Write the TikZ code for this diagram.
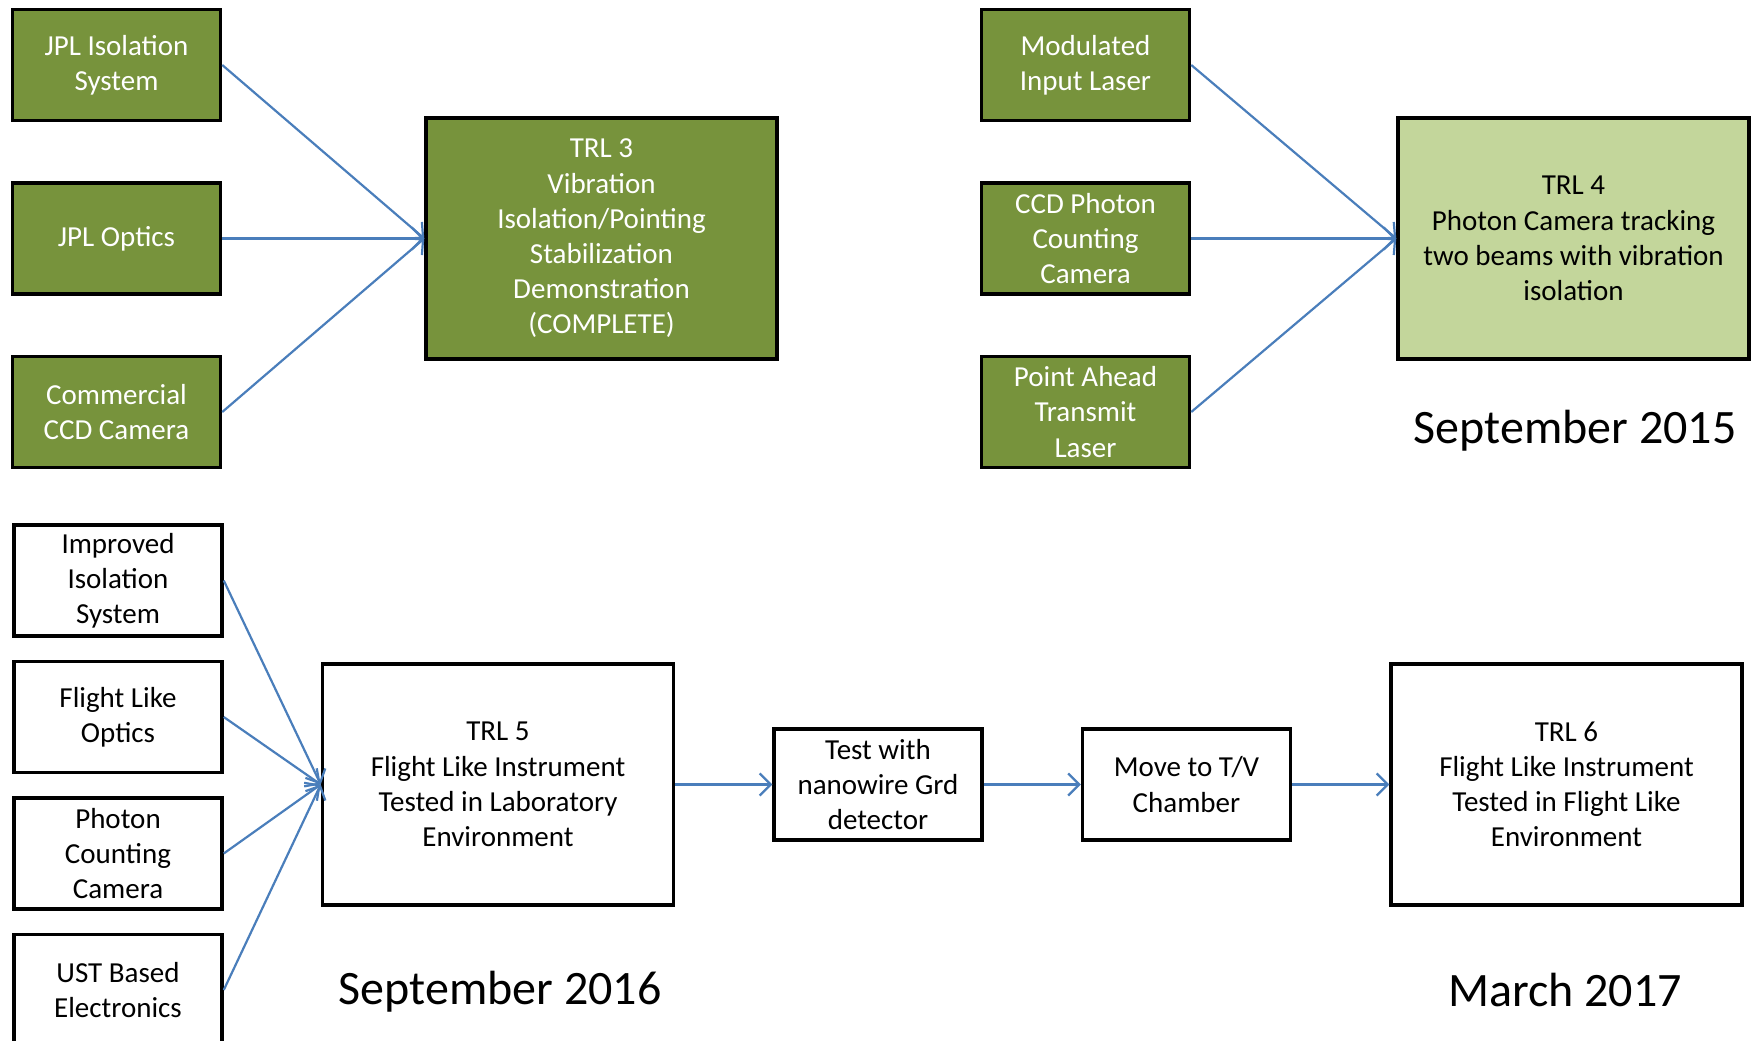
\documentclass[tikz,border=0pt]{standalone}
\usepackage{fontspec}
\setmainfont{Carlito}
\usepackage{tikz}
\usetikzlibrary{positioning,arrows.meta}

\definecolor{olivedark}{HTML}{77933C}
\definecolor{olivelight}{HTML}{C3D69B}
\definecolor{linkblue}{HTML}{4A7EBB}

\begin{document}
\begin{tikzpicture}[
        x=1pt, y=-1pt,
        smallbox/.style={draw, line width=3.5pt, minimum width=208pt, minimum height=111pt, align=center, font=\fontsize{29}{35.2}\selectfont},
        bigbox/.style={smallbox, minimum width=351pt, minimum height=241pt},
        donebox/.style={fill=olivedark, text=white},
        datelabel/.style={font=\fontsize{48}{58}\selectfont},
        flow/.style={draw=linkblue, line width=2.2pt, -{Straight Barb[length=11pt,width=22pt]}}
        ]
        \useasboundingbox (0,0) rectangle (1754,1041);
        \clip (0,0) rectangle (1754,1041);
        % TRL 3
        \node[smallbox,donebox]            (jpliso)   at (116.5,65)         {JPL Isolation\\System};
        \node[smallbox,donebox]            (jplopt)   [below=59pt of jpliso]   {JPL Optics};
        \node[smallbox,donebox]            (comccd)   [below=59pt of jplopt]   {Commercial\\CCD Camera};
        \node[bigbox,donebox]              (trliii)   [right=202pt of jplopt]  {TRL 3\\Vibration\\Isolation/Pointing\\Stabilization\\Demonstration\\(COMPLETE)};
        % TRL 4
        \node[smallbox,donebox]            (ccdphot)  [right=201pt of trliii]  {CCD Photon\\Counting\\Camera};
        \node[smallbox,donebox]            (modlaser) [above=59pt of ccdphot]  {Modulated\\Input Laser};
        \node[smallbox,donebox]            (ptahead)  [below=59pt of ccdphot]  {Point Ahead\\Transmit\\Laser};
        \node[bigbox,fill=olivelight]      (trliv)    [right=205pt of ccdphot] {TRL 4\\Photon Camera tracking\\two beams with vibration\\isolation};
        \node[datelabel]                   (sepxv)    at (1575,431)         {September 2015};
        % TRL 5 and TRL 6
        \node[smallbox]                    (impiso)   at (118,580.5)        {Improved\\Isolation\\System};
        \node[smallbox]                    (flopt)    [below=22pt of impiso]   {Flight Like\\Optics};
        \node[smallbox]                    (photcam)  [below=22pt of flopt]    {Photon\\Counting\\Camera};
        \node[smallbox]                    (ustel)    [below=22pt of photcam]  {UST Based\\Electronics};
        \node[bigbox]                      (trlv)     at (498,784.5)        {TRL 5\\Flight Like Instrument\\Tested in Laboratory\\Environment};
        \node[smallbox]                    (nanotest) [right=97pt of trlv]     {Test with\\nanowire Grd\\detector};
        \node[smallbox]                    (tvchamb)  [right=97pt of nanotest] {Move to T/V\\Chamber};
        \node[bigbox]                      (trlvi)    [right=97pt of tvchamb]  {TRL 6\\Flight Like Instrument\\Tested in Flight Like\\Environment};
        \node[datelabel]                   (sepxvi)   at (500,992)          {September 2016};
        \node[datelabel]                   (marxvii)  at (1565,990)         {March 2017};
        \path[every edge/.style={flow}]
        (jpliso.east)   edge    (trliii.west)
        (jplopt.east)   edge    (trliii.west)
        (comccd.east)   edge    (trliii.west)
        (modlaser.east) edge    (trliv.west)
        (ccdphot.east)  edge    (trliv.west)
        (ptahead.east)  edge    (trliv.west)
        (impiso.east)   edge    (trlv.west)
        (flopt.east)    edge    (trlv.west)
        (photcam.east)  edge    (trlv.west)
        (ustel.east)    edge    (trlv.west)
        (trlv.east)     edge    (nanotest.west)
        (nanotest.east) edge    (tvchamb.west)
        (tvchamb.east)  edge    (trlvi.west);
    \end{tikzpicture}
\end{document}
